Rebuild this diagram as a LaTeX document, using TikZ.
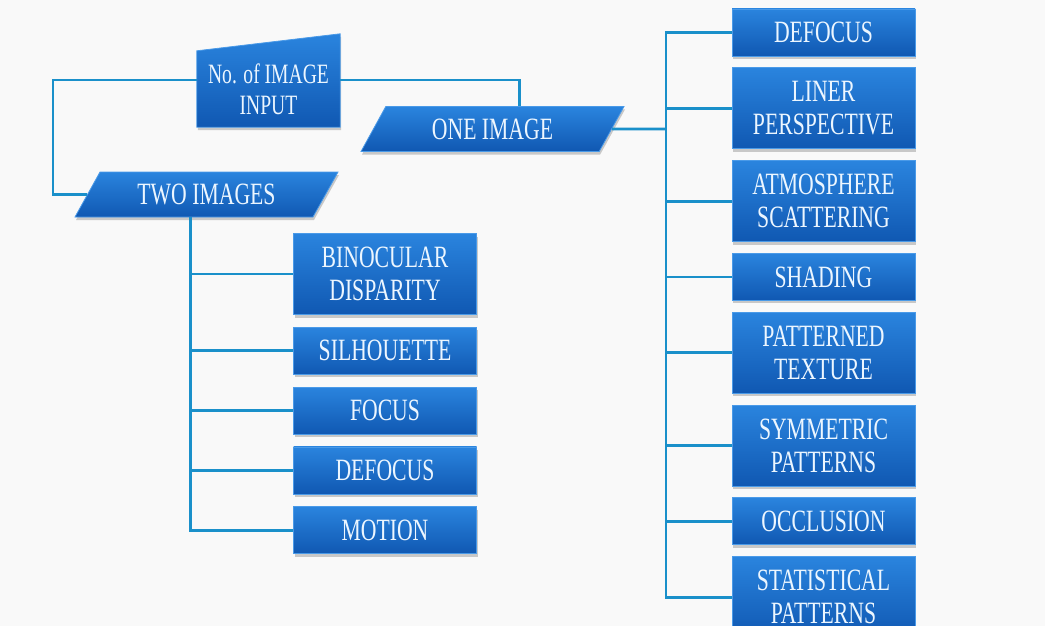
\documentclass[tikz,border=0pt]{standalone}
\usepackage{fontspec}
\setmainfont{Liberation Serif}[FakeStretch=0.7]
\usetikzlibrary{positioning,shapes.geometric,shadows,backgrounds}

\definecolor{boxtop}{RGB}{42,132,222}
\definecolor{boxbot}{RGB}{16,88,178}
\definecolor{boxrim}{RGB}{74,154,232}
\definecolor{wirecol}{RGB}{26,144,202}
\definecolor{cuewhite}{RGB}{236,246,255}
\definecolor{paper}{RGB}{249,249,249}

\begin{document}
\begin{tikzpicture}[x=1pt,y=-1pt,
    wire/.style={draw=wirecol,line width=2.8pt},
    cuefill/.style={top color=boxtop,bottom color=boxbot,draw=boxrim,line width=0.8pt,
      drop shadow={shadow xshift=1pt,shadow yshift=-3pt,opacity=0.4}},
    cuetext/.style={text=cuewhite,font=\fontsize{31}{33}\selectfont,align=center,inner sep=0pt},
    cue/.style={rectangle,cuefill,cuetext,minimum width=183pt,minimum height=47pt},
    tall/.style={cue,minimum height=81pt},
    choice/.style={trapezium,cuefill,cuetext,trapezium left angle=40,trapezium right angle=140,
      trapezium stretches body=true,minimum width=263pt,minimum height=45pt}]
    \useasboundingbox (0,0) rectangle (1045,626);
    \begin{scope}[on background layer]
      \fill[paper] (0,0) rectangle (1045,626);
    \end{scope}

    % top of the tree
    \node[cuetext,font=\fontsize{28}{31}\selectfont,minimum width=143pt,minimum height=76pt]
      (nin) at (268.5,89) {No. of IMAGE\\INPUT};
    \begin{scope}[on background layer]
      \shade[cuefill] (nin.south west) -- (nin.north west) -- ([yshift=17pt]nin.north east)
        -- (nin.south east) -- cycle;
    \end{scope}
    \node[choice] (two) at (206.5,194.5) {TWO IMAGES};
    \node[choice] (one) at (492.5,129) {ONE IMAGE};

    % cues from two images
    \node[tall] (binoc) at (385,274) {BINOCULAR\\DISPARITY};
    \node[cue] (silh) [below=12pt of binoc] {SILHOUETTE};
    \node[cue] (focus) [below=12pt of silh] {FOCUS};
    \node[cue] (ldefocus) [below=12pt of focus] {DEFOCUS};
    \node[cue] (motion) [below=12pt of ldefocus] {MOTION};

    % cues from one image
    \node[cue] (rdefocus) at (823.5,32.5) {DEFOCUS};
    \node[tall] (rliner) [below=11pt of rdefocus] {LINER\\PERSPECTIVE};
    \node[tall] (ratmos) [below=11pt of rliner] {ATMOSPHERE\\SCATTERING};
    \node[cue] (rshading) [below=11pt of ratmos] {SHADING};
    \node[tall] (rpattern) [below=11pt of rshading] {PATTERNED\\TEXTURE};
    \node[tall] (rsymm) [below=11pt of rpattern] {SYMMETRIC\\PATTERNS};
    \node[cue] (roccl) [below=11pt of rsymm] {OCCLUSION};
    \node[tall] (rstat) [below=11pt of roccl] {STATISTICAL\\PATTERNS};

    \coordinate (tbus) at (53,80);
    \coordinate (lbus) at ([xshift=-16pt]two.south);
    \coordinate (rbus) at (666,129);

    \draw[wire] ([yshift=9pt]nin.west) -- (tbus) |- (two.west);
    \draw[wire] ([yshift=9pt]nin.east) -| ([xshift=27pt]one.north);
    \draw[wire] (one.east) -- (rbus);

    \draw[wire] (lbus) |- (motion.west);
    \foreach \n in {binoc,silh,focus,ldefocus}
      \draw[wire] (\n.west) -- (lbus |- \n.west);

    \draw[wire] (rdefocus.west) -| (rbus |- rstat.west) -- (rstat.west);
    \foreach \n in {rliner,ratmos,rshading,rpattern,rsymm,roccl}
      \draw[wire] (\n.west) -- (rbus |- \n.west);
\end{tikzpicture}
\end{document}
